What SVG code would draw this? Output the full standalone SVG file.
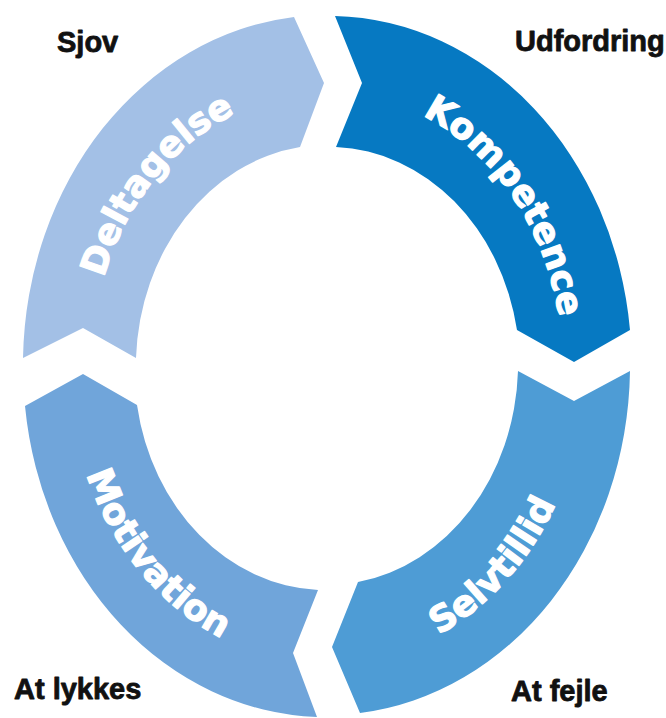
<svg xmlns="http://www.w3.org/2000/svg" width="666" height="718" viewBox="0 0 666 718">
<style>
.seg text{font-family:"DejaVu Sans","Open Sans",sans-serif;font-weight:bold;font-size:36px;fill:#fff;stroke:#fff;stroke-width:1.2px;stroke-linejoin:round}
.lbl{font-family:"Liberation Sans",Arial,sans-serif;font-weight:bold;font-size:29px;fill:#111;stroke:#111;stroke-width:0.8px;stroke-linejoin:round}
</style>
<defs>
<path id="pD" d="M 91 369.4 A 236 275 0 0 1 324.9 92"/>
<path id="pK" d="M 349.6 93.3 A 236 275 0 0 1 561.9 393.4"/>
<path id="pS" d="M 315.7 663.7 A 258 297 0 0 0 584.7 379.9"/>
<path id="pM" d="M 69 367 A 258 297 0 0 0 327 664"/>
</defs>
<rect width="666" height="718" fill="#fff"/>
<g id="deltagelse" class="seg">
<path d="M 23 358 A 303 350 0 0 1 294 17 L 324 83 L 300 147 A 191 222 0 0 0 136 358 L 83 328 Z" fill="#A3C0E6"/>
<text><textPath href="#pD" startOffset="50%" text-anchor="middle">Deltagelse</textPath></text>
</g>
<g id="kompetence" class="seg">
<path d="M 335 16 A 303 350 0 0 1 630 330 L 574 362 L 517 330 A 191 222 0 0 0 336 147 L 362 83 Z" fill="#0679C2"/>
<text><textPath href="#pK" startOffset="50%" text-anchor="middle">Kompetence</textPath></text>
</g>
<g id="selvtillid" class="seg">
<path d="M 630 371 A 303 350 0 0 1 360 713 L 332 647 L 358 582 A 191 222 0 0 0 518 371 L 574 401 Z" fill="#4E9CD5"/>
<text><textPath href="#pS" startOffset="50%" text-anchor="middle">Selvtillid</textPath></text>
</g>
<g id="motivation" class="seg">
<path d="M 317 717 A 303 350 0 0 1 25 406 L 83 374 L 137 405 A 191 222 0 0 0 318 590 L 293 653 Z" fill="#70A5DA"/>
<text><textPath href="#pM" startOffset="50%" text-anchor="middle">Motivation</textPath></text>
</g>
<g id="labels">
<text class="lbl" x="57" y="52">Sjov</text>
<text class="lbl" x="515" y="51">Udfordring</text>
<text class="lbl" x="14" y="699">At lykkes</text>
<text class="lbl" x="511" y="701">At fejle</text>
</g>
<g id="connectors"></g>
</svg>
